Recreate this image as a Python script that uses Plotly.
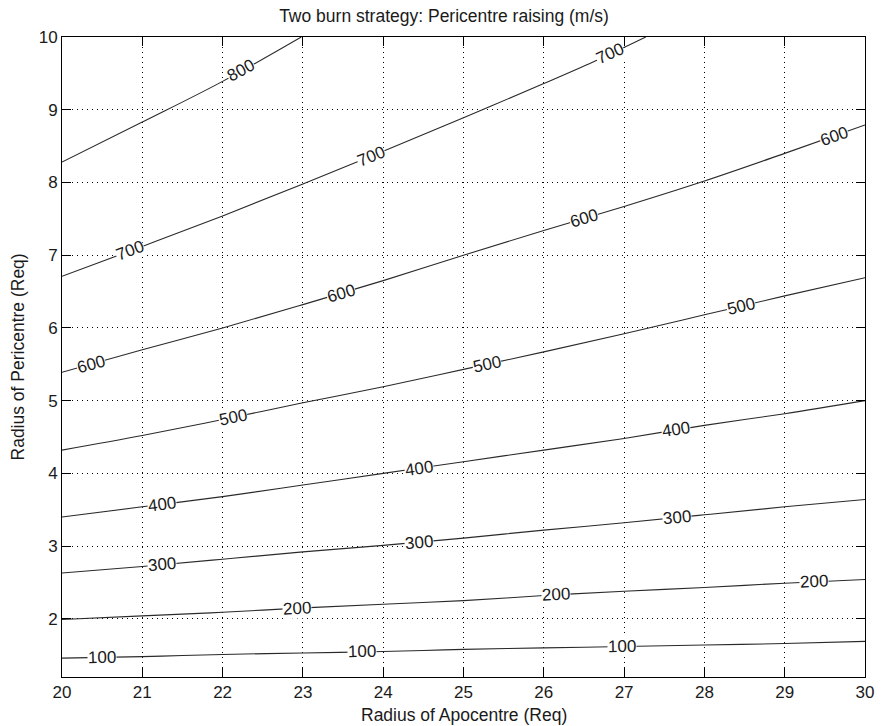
import numpy as np
import plotly.graph_objects as go

# ---------------- data ----------------
levels = [100, 200, 300, 400, 500, 600, 700, 800]

x_full = [20, 21, 22, 23, 24, 25, 26, 27, 28, 29, 30]
y_100 = [1.46, 1.48, 1.51, 1.53, 1.55, 1.58, 1.60, 1.62, 1.64, 1.66, 1.69]
y_200 = [1.99, 2.04, 2.09, 2.15, 2.20, 2.25, 2.32, 2.38, 2.43, 2.49, 2.54]
y_300 = [2.63, 2.72, 2.82, 2.92, 3.01, 3.11, 3.22, 3.32, 3.43, 3.54, 3.64]
y_400 = [3.40, 3.54, 3.68, 3.84, 4.00, 4.16, 4.32, 4.48, 4.66, 4.82, 5.00]
y_500 = [4.32, 4.52, 4.74, 4.97, 5.19, 5.43, 5.67, 5.92, 6.18, 6.44, 6.69]
y_600 = [5.39, 5.70, 6.00, 6.32, 6.65, 7.00, 7.34, 7.67, 8.02, 8.40, 8.79]
x_700 = [20, 21, 22, 23, 24, 25, 26, 26.62, 27.27]
y_700 = [6.71, 7.12, 7.54, 7.98, 8.43, 8.89, 9.36, 9.66, 10.0]
x_800 = [20, 21, 22, 22.98]
y_800 = [8.28, 8.83, 9.39, 10.0]

contour_x = {100: x_full, 200: x_full, 300: x_full, 400: x_full,
             500: x_full, 600: x_full, 700: x_700, 800: x_800}
contour_y = {100: y_100, 200: y_200, 300: y_300, 400: y_400,
             500: y_500, 600: y_600, 700: y_700, 800: y_800}

# x positions of the in-line labels
label_x = {
    100: [20.5, 23.73, 26.97],
    200: [22.93, 26.15, 29.37],
    300: [21.24, 24.45, 27.66],
    400: [21.24, 24.45, 27.65],
    500: [22.13, 25.29, 28.45],
    600: [20.36, 23.48, 26.5, 29.61],
    700: [20.85, 23.85, 26.83],
    800: [22.23],
}

x_ticks = list(range(20, 31))
y_ticks = list(range(2, 11))
x_range = [20, 30]
y_range = [1.2, 10]

title_text = "Two burn strategy: Pericentre raising (m/s)"
x_title = "Radius of Apocentre (Req)"
y_title = "Radius of Pericentre (Req)"

# ---------------- layout constants ----------------
W, H = 884, 726
ML, MR, MT, MB = 62, 10, 37, 49
PW, PH = W - ML - MR, H - MT - MB
px_per_x = PW / (x_range[1] - x_range[0])
px_per_y = PH / (y_range[1] - y_range[0])

FONT = "Liberation Sans, Arial, Helvetica, sans-serif"
TXT = "#1a1a1a"
LINE = "#2a2a2a"

fig = go.Figure()
annotations = []

for lv in levels:
    xs = np.array(contour_x[lv], dtype=float)
    ys = np.array(contour_y[lv], dtype=float)
    fig.add_trace(go.Scatter(x=xs, y=ys, mode="lines",
                             line=dict(color=LINE, width=1.1, shape="spline", smoothing=1.0),
                             hoverinfo="skip", showlegend=False))
    slopes = np.gradient(ys, xs)
    for lx in label_x[lv]:
        ly = float(np.interp(lx, xs, ys))
        s = float(np.interp(lx, xs, slopes))
        ang = -np.degrees(np.arctan(s * px_per_y / px_per_x))
        annotations.append(dict(x=lx, y=ly, xref="x", yref="y", text=str(lv),
                                showarrow=False, textangle=ang,
                                bgcolor="white", borderpad=0,
                                font=dict(family=FONT, size=17, color=TXT)))

annotations.append(dict(x=0.5, y=(H - 715 - MB) / PH, xref="paper", yref="paper",
                        text=x_title, showarrow=False, xanchor="center", yanchor="middle",
                        font=dict(family=FONT, size=17.5, color=TXT)))
annotations.append(dict(x=(18 - ML) / PW, y=0.5, xref="paper", yref="paper",
                        text=y_title, showarrow=False, textangle=-90,
                        xanchor="center", yanchor="middle",
                        font=dict(family=FONT, size=17.5, color=TXT)))

axis_common = dict(showline=True, linecolor="black", linewidth=1, mirror="ticks",
                   ticks="inside", ticklen=9, tickcolor="black", tickwidth=1,
                   showgrid=True, gridcolor="black", gridwidth=1, griddash="1px,4px",
                   zeroline=False,
                   tickfont=dict(family=FONT, size=17, color=TXT))

fig.update_layout(
    width=W, height=H,
    margin=dict(l=ML, r=MR, t=MT, b=MB),
    paper_bgcolor="white", plot_bgcolor="white",
    title=dict(text=title_text, x=444 / W, xref="container", xanchor="center",
               y=1 - 16 / H, yref="container", yanchor="middle",
               font=dict(family=FONT, size=17.5, color=TXT)),
    xaxis=dict(range=x_range, tickvals=x_ticks, **axis_common),
    yaxis=dict(range=y_range, tickvals=y_ticks, **axis_common),
    annotations=annotations,
)

fig.write_html("out.html")
